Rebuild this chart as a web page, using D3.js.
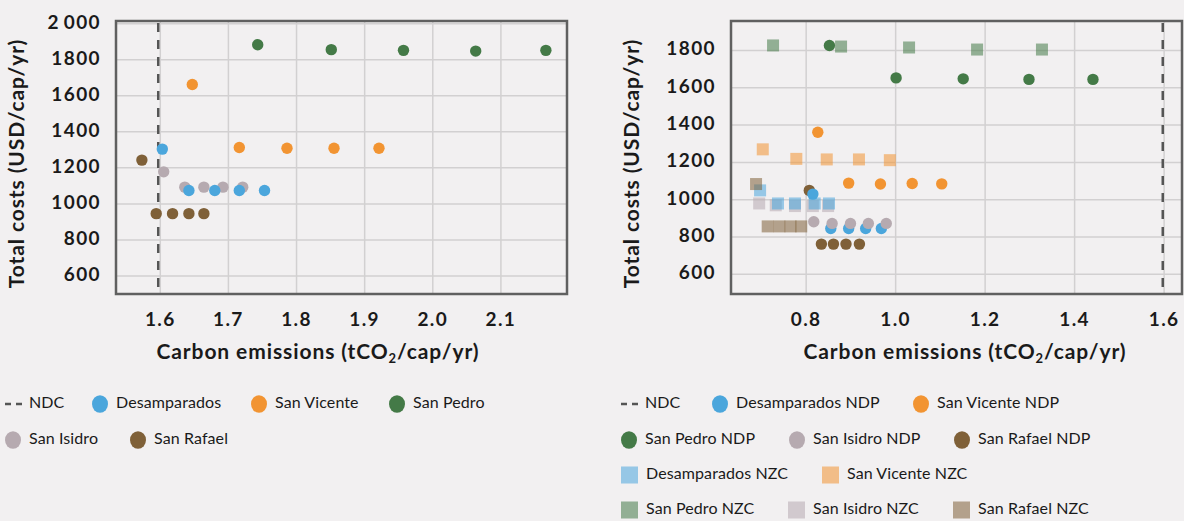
<!DOCTYPE html>
<html lang="en">
<head>
<meta charset="utf-8">
<title>Total costs vs carbon emissions</title>
<script src="https://cdn.jsdelivr.net/npm/d3@7"></script>
<style>
    body { margin: 0; background: #f2f0f1; }
    svg { display: block; font-family: Lato, "Open Sans", sans-serif; }
    .grid line { stroke: #d2d0d1; stroke-width: 1.5px; }
    .tick-label { font-size: 19px; font-weight: 700; fill: #1a1a1a; letter-spacing: 1.4px; }
    .axis-title { font-size: 21px; font-weight: 700; fill: #1a1a1a; letter-spacing: 0.9px; }
    .legend text { font-size: 16px; fill: #1a1a1a; letter-spacing: 0.1px; }
</style>
</head>
<body>
<script>

    // ---- left panel data ----
    var ndcLeft = 1.597;
    var leftXTicks = [1.6, 1.7, 1.8, 1.9, 2.0, 2.1];
    var leftYTicks = [600, 800, 1000, 1200, 1400, 1600, 1800, 2000];
    var leftYLabels = ['600', '800', '1000', '1200', '1400', '1600', '1800', '2\u2009000'];

    var desampX = [1.603, 1.642, 1.680, 1.716, 1.753];
    var desampY = [1304, 1074, 1074, 1074, 1074];
    var vicenteX = [1.647, 1.716, 1.786, 1.855, 1.921];
    var vicenteY = [1663, 1313, 1309, 1309, 1309];
    var pedroX = [1.743, 1.851, 1.957, 2.063, 2.166];
    var pedroY = [1883, 1856, 1852, 1848, 1852];
    var isidroX = [1.605, 1.636, 1.664, 1.692, 1.721];
    var isidroY = [1178, 1093, 1093, 1093, 1093];
    var rafaelX = [1.573, 1.594, 1.618, 1.642, 1.664];
    var rafaelY = [1243, 946, 946, 946, 946];

    // ---- right panel data ----
    var ndcRight = 1.597;
    var rightXTicks = [0.8, 1.0, 1.2, 1.4, 1.6];
    var rightYTicks = [600, 800, 1000, 1200, 1400, 1600, 1800];

    var desampNdpX = [0.815, 0.855, 0.895, 0.933, 0.968];
    var desampNdpY = [1030, 846, 846, 846, 846];
    var vicenteNdpX = [0.826, 0.895, 0.966, 1.037, 1.103];
    var vicenteNdpY = [1362, 1089, 1084, 1087, 1085];
    var pedroNdpX = [0.852, 1.001, 1.151, 1.298, 1.441];
    var pedroNdpY = [1827, 1653, 1648, 1645, 1645];
    var isidroNdpX = [0.817, 0.858, 0.899, 0.939, 0.979];
    var isidroNdpY = [882, 873, 873, 873, 873];
    var rafaelNdpX = [0.807, 0.834, 0.861, 0.889, 0.919];
    var rafaelNdpY = [1050, 762, 762, 762, 762];

    var desampNzcX = [0.697, 0.737, 0.775, 0.819, 0.851];
    var desampNzcY = [1050, 980, 980, 980, 980];
    var vicenteNzcX = [0.703, 0.778, 0.846, 0.918, 0.987];
    var vicenteNzcY = [1270, 1219, 1216, 1216, 1212];
    var pedroNzcX = [0.726, 0.878, 1.030, 1.182, 1.327];
    var pedroNzcY = [1827, 1821, 1816, 1805, 1805];
    var isidroNzcX = [0.695, 0.732, 0.775, 0.815, 0.849];
    var isidroNzcY = [980, 970, 966, 966, 966];
    var rafaelNzcX = [0.688, 0.714, 0.740, 0.765, 0.789];
    var rafaelNzcY = [1084, 857, 857, 857, 857];

    var colors = {
        desamp: '#4ba6dc', vicente: '#f29432', pedro: '#447a47',
        isidro: '#b6aab0', rafael: '#7f6038'
    };
    var nzcOpacity = 0.55;

    function zip(xs, ys) {
        return xs.map(function(x, i) { return [x, ys[i]]; });
    }

    var svg = d3.select('body').append('svg')
        .attr('width', 1184)
        .attr('height', 521);

    function drawPanel(opt) {
        var g = svg.append('g');
        var x = d3.scaleLinear().domain(opt.xDomain).range([opt.left, opt.right]);
        var y = d3.scaleLinear().domain(opt.yDomain).range(opt.yRange);

        var grid = g.append('g').attr('class', 'grid');
        grid.selectAll('line.v').data(opt.xTicks).enter().append('line')
            .attr('class', 'v')
            .attr('x1', x).attr('x2', x)
            .attr('y1', opt.top).attr('y2', opt.bottom);
        grid.selectAll('line.h').data(opt.yTicks).enter().append('line')
            .attr('class', 'h')
            .attr('x1', opt.left).attr('x2', opt.right)
            .attr('y1', y).attr('y2', y);

        // NDC line
        g.append('line')
            .attr('x1', x(opt.ndc)).attr('x2', x(opt.ndc))
            .attr('y1', opt.top + 2).attr('y2', opt.bottom)
            .attr('stroke', '#555')
            .attr('stroke-width', 2.5)
            .attr('stroke-dasharray', '9,8');

        opt.series.forEach(function(s) {
            var pts = zip(s.x, s.y);
            if (s.shape === 'square') {
                g.append('g').selectAll('rect').data(pts).enter().append('rect')
                    .attr('x', function(d) { return x(d[0]) - 6; })
                    .attr('y', function(d) { return y(d[1]) - 6; })
                    .attr('width', 12).attr('height', 12)
                    .attr('fill', s.color)
                    .attr('fill-opacity', nzcOpacity);
            } else {
                g.append('g').selectAll('circle').data(pts).enter().append('circle')
                    .attr('cx', function(d) { return x(d[0]); })
                    .attr('cy', function(d) { return y(d[1]); })
                    .attr('r', 5.7)
                    .attr('fill', s.color);
            }
        });

        // frame
        g.append('rect')
            .attr('x', opt.left).attr('y', opt.top)
            .attr('width', opt.right - opt.left)
            .attr('height', opt.bottom - opt.top)
            .attr('fill', 'none')
            .attr('stroke', '#606060')
            .attr('stroke-width', 2.5);

        // tick labels
        g.selectAll('text.xt').data(opt.xTicks).enter().append('text')
            .attr('class', 'tick-label')
            .attr('x', x)
            .attr('y', opt.bottom + 27)
            .attr('dominant-baseline', 'middle')
            .attr('text-anchor', 'middle')
            .text(function(d) { return d3.format('.1f')(d); });
        g.selectAll('text.yt').data(opt.yTicks).enter().append('text')
            .attr('class', 'tick-label')
            .attr('x', opt.left - 15)
            .attr('y', y)
            .attr('dominant-baseline', 'middle')
            .attr('text-anchor', 'end')
            .text(function(d, i) { return opt.yLabels ? opt.yLabels[i] : d; });

        // axis titles
        var xt = g.append('text')
            .attr('class', 'axis-title')
            .attr('x', opt.xTitleX)
            .attr('y', opt.bottom + 60)
            .attr('dominant-baseline', 'middle')
            .attr('text-anchor', 'middle');
        xt.append('tspan').text('Carbon emissions (tCO');
        xt.append('tspan').attr('font-size', '13px').attr('dy', 6).text('2');
        xt.append('tspan').attr('dy', -6).text('/cap/yr)');

        g.append('text')
            .attr('class', 'axis-title')
            .attr('transform', 'translate(' + opt.yTitleX + ',' + ((opt.top + opt.bottom) / 2 + 6) + ') rotate(-90)')
            .attr('dominant-baseline', 'middle')
            .attr('text-anchor', 'middle')
            .text('Total costs (USD/cap/yr)');
    }

    drawPanel({
        left: 116, right: 567, top: 21, bottom: 294,
        xDomain: [1.535, 2.197], yDomain: [500, 2015], yRange: [294, 21],
        xTicks: leftXTicks, yTicks: leftYTicks, yLabels: leftYLabels,
        ndc: ndcLeft, xTitleX: 318, yTitleX: 19,
        series: [
            {x: rafaelX, y: rafaelY, color: colors.rafael},
            {x: isidroX, y: isidroY, color: colors.isidro},
            {x: desampX, y: desampY, color: colors.desamp},
            {x: vicenteX, y: vicenteY, color: colors.vicente},
            {x: pedroX, y: pedroY, color: colors.pedro}
        ]
    });

    drawPanel({
        left: 731, right: 1182, top: 21, bottom: 294,
        xDomain: [0.632, 1.640], yDomain: [500, 1958], yRange: [293, 21],
        xTicks: rightXTicks, yTicks: rightYTicks,
        ndc: ndcRight, xTitleX: 965, yTitleX: 634,
        series: [
            {x: rafaelNdpX, y: rafaelNdpY, color: colors.rafael},
            {x: desampNdpX, y: desampNdpY, color: colors.desamp},
            {x: isidroNdpX, y: isidroNdpY, color: colors.isidro},
            {x: vicenteNdpX, y: vicenteNdpY, color: colors.vicente},
            {x: pedroNdpX, y: pedroNdpY, color: colors.pedro},
            {x: isidroNzcX, y: isidroNzcY, color: colors.isidro, shape: 'square'},
            {x: desampNzcX, y: desampNzcY, color: colors.desamp, shape: 'square'},
            {x: vicenteNzcX, y: vicenteNzcY, color: colors.vicente, shape: 'square'},
            {x: pedroNzcX, y: pedroNzcY, color: colors.pedro, shape: 'square'},
            {x: rafaelNzcX, y: rafaelNzcY, color: colors.rafael, shape: 'square'}
        ]
    });

    // ---- legends ----
    var leftLegend = [
        {label: 'NDC', key: 'ndc', x: 5, row: 0},
        {label: 'Desamparados', key: 'desamp', x: 92, row: 0},
        {label: 'San Vicente', key: 'vicente', x: 251, row: 0},
        {label: 'San Pedro', key: 'pedro', x: 389, row: 0},
        {label: 'San Isidro', key: 'isidro', x: 5, row: 1},
        {label: 'San Rafael', key: 'rafael', x: 130, row: 1}
    ];
    var rightLegend = [
        {label: 'NDC', key: 'ndc', x: 621, row: 0},
        {label: 'Desamparados NDP', key: 'desamp', x: 712, row: 0},
        {label: 'San Vicente NDP', key: 'vicente', x: 913, row: 0},
        {label: 'San Pedro NDP', key: 'pedro', x: 621, row: 1},
        {label: 'San Isidro NDP', key: 'isidro', x: 789, row: 1},
        {label: 'San Rafael NDP', key: 'rafael', x: 954, row: 1},
        {label: 'Desamparados NZC', key: 'desamp', x: 621, row: 2, sq: true},
        {label: 'San Vicente NZC', key: 'vicente', x: 822, row: 2, sq: true},
        {label: 'San Pedro NZC', key: 'pedro', x: 621, row: 3, sq: true},
        {label: 'San Isidro NZC', key: 'isidro', x: 788, row: 3, sq: true},
        {label: 'San Rafael NZC', key: 'rafael', x: 953, row: 3, sq: true}
    ];
    var rowY = [404, 440, 475, 510];

    function drawLegend(items) {
        var lg = svg.append('g').attr('class', 'legend');
        var it = lg.selectAll('g').data(items).enter().append('g')
            .attr('transform', function(d) { return 'translate(' + d.x + ',' + rowY[d.row] + ')'; });
        it.each(function(d) {
            var s = d3.select(this);
            if (d.key === 'ndc') {
                s.append('line')
                    .attr('x1', 0).attr('x2', 17).attr('y1', 0).attr('y2', 0)
                    .attr('stroke', '#555').attr('stroke-width', 2.5)
                    .attr('stroke-dasharray', '6,5');
            } else if (d.sq) {
                s.append('rect')
                    .attr('x', 0).attr('y', -8.5).attr('width', 17).attr('height', 17)
                    .attr('fill', colors[d.key]).attr('fill-opacity', nzcOpacity);
            } else {
                s.append('ellipse')
                    .attr('cx', 8).attr('cy', 0).attr('rx', 8).attr('ry', 8.7)
                    .attr('fill', colors[d.key]);
            }
            s.append('text')
                .attr('x', d.key === 'ndc' ? 24 : (d.sq ? 25 : 24))
                .attr('y', 0)
                .attr('dominant-baseline', 'middle')
                .text(d.label);
        });
    }
    drawLegend(leftLegend);
    drawLegend(rightLegend);

</script>
</body>
</html>
